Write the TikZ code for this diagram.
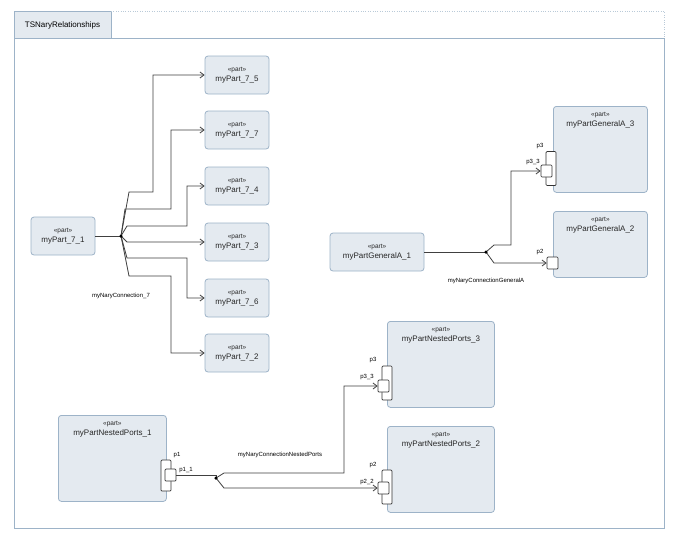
\documentclass[tikz,border=0pt]{standalone}
\usepackage{fontspec}
\setmainfont{Liberation Sans}
\usetikzlibrary{positioning,arrows.meta}
\definecolor{partfill}{HTML}{E4EAF0}
\definecolor{partline}{HTML}{9DB3C8}
\newcommand{\stereo}{{\fontsize{6.5}{8}\selectfont «part»}}
\tikzset{
  part/.style={draw=partline, fill=partfill, rounded corners=3pt, line width=0.8pt,
    minimum width=64pt, minimum height=38pt, align=center, text=black!85,
    font=\fontsize{8}{9.5}\selectfont},
  bigpart/.style={part, minimum width=#1, minimum height=86pt, anchor=north west, text depth=60pt},
  port/.style={draw=black!80, fill=white, line width=0.7pt, rounded corners=1pt, inner sep=0pt,
    minimum width=11pt, minimum height=12pt},
  outerport/.style={draw=black!80, fill=white, line width=0.7pt, rounded corners=1pt, inner sep=0pt,
    minimum width=10pt, minimum height=34pt},
  conn/.style={draw=black!75, line width=0.8pt, -{Straight Barb[length=4pt,width=6pt]}},
  seg/.style={draw=black!75, line width=0.8pt},
  lbl/.style={font=\fontsize{6}{7}\selectfont, inner sep=0pt},
  dot/.style={circle, fill=black, inner sep=0pt, minimum size=3.5pt}
}
\begin{document}
\begin{tikzpicture}[x=1pt,y=-1pt]
      \useasboundingbox (0,0) rectangle (680,542);

      % Frame
      \draw[partline, line width=0.8pt, fill=white] (14,38) rectangle (664,528);
      \draw[partline, line width=0.8pt, fill=partfill] (14,11) rectangle (111,38);
      \draw[partline!70, dotted] (111,11) -- (664,11) -- (664,38);
      \node[font=\fontsize{8}{9}\selectfont] at (62.5,25) {TSNaryRelationships};

      % Parts of connection 7
      \node[part] (p71) at (63,236) {\stereo\\myPart\_7\_1};
      \node[part] (p75) at (237,75) {\stereo\\myPart\_7\_5};
      \node[part] (p77) at (237,130) {\stereo\\myPart\_7\_7};
      \node[part] (p74) at (237,186) {\stereo\\myPart\_7\_4};
      \node[part] (p73) at (237,242) {\stereo\\myPart\_7\_3};
      \node[part] (p76) at (237,298) {\stereo\\myPart\_7\_6};
      \node[part] (p72) at (237,353) {\stereo\\myPart\_7\_2};

      \coordinate (j7) at (121,236);
      \draw[seg] (p71.east) -- (j7);
      \draw[conn] (j7) -- (129,192) -| (153,75) -- (p75.west);
      \draw[conn] (j7) -- (125,209) -| (171,130) -- (p77.west);
      \draw[conn] (j7) -- (127,226) -| (187,186) -- (p74.west);
      \draw[conn] (j7) -- (127,242) -- (p73.west);
      \draw[conn] (j7) -- (127,258) -| (187,298) -- (p76.west);
      \draw[conn] (j7) -- (129,276) -| (171,353) -- (p72.west);
      \node[dot] at (j7) {};
      \node[lbl] at (121,296) {myNaryConnection\_7};

      % General A
      \node[part, minimum width=94pt] (ga1) at (377,252) {\stereo\\myPartGeneralA\_1};
      \node[bigpart=94pt] (ga3) at (553,106) {\stereo\\myPartGeneralA\_3};
      \node[bigpart=94pt, minimum height=66pt, text depth=40pt] (ga2) at (553,211) {\stereo\\myPartGeneralA\_2};
      \node[outerport] (ga3p3) at (551,168.5) {};
      \node[port] (ga3p33) at (546.5,171) {};
      \node[port] (ga2p2) at (552.5,263) {};
      \node[lbl] at (540,146) {p3};
      \node[lbl] at (533,162) {p3\_3};
      \node[lbl] at (540,252) {p2};

      \coordinate (jga) at (486,252);
      \draw[seg] (ga1.east) -- (jga);
      \draw[conn] (jga) -- (494,245) -| (511,171) -- (ga3p33.west);
      \draw[conn] (jga) -- (494,263) -- (ga2p2.west);
      \node[dot] at (jga) {};
      \node[lbl] at (486,281) {myNaryConnectionGeneralA};

      % Nested ports
      \node[bigpart=108pt] (np1) at (58,415) {\stereo\\myPartNestedPorts\_1};
      \node[bigpart=107pt] (np3) at (387,321) {\stereo\\myPartNestedPorts\_3};
      \node[bigpart=107pt] (np2) at (387,426) {\stereo\\myPartNestedPorts\_2};
      \node[outerport, minimum height=31pt] (np1p1) at (166,475.5) {};
      \node[port] (np1p11) at (170.5,475) {};
      \node[outerport] (np3p3) at (387,383) {};
      \node[port] (np3p33) at (383.5,386) {};
      \node[outerport] (np2p2) at (387,487) {};
      \node[port] (np2p22) at (383.5,488) {};
      \node[lbl] at (177,455) {p1};
      \node[lbl] at (186,470) {p1\_1};
      \node[lbl] at (373,360) {p3};
      \node[lbl] at (367,377) {p3\_3};
      \node[lbl] at (373,465) {p2};
      \node[lbl] at (367,482) {p2\_2};

      \coordinate (jnp) at (216,478);
      \draw[seg] (np1p11.east) -- (216,475) -- (jnp);
      \draw[conn] (jnp) -- (224,473) -| (344,386) -- (np3p33.west);
      \draw[conn] (jnp) -- (224,488) -- (np2p22.west);
      \node[dot] at (jnp) {};
      \node[lbl] at (280,455) {myNaryConnectionNestedPorts};
    \end{tikzpicture}
\end{document}
